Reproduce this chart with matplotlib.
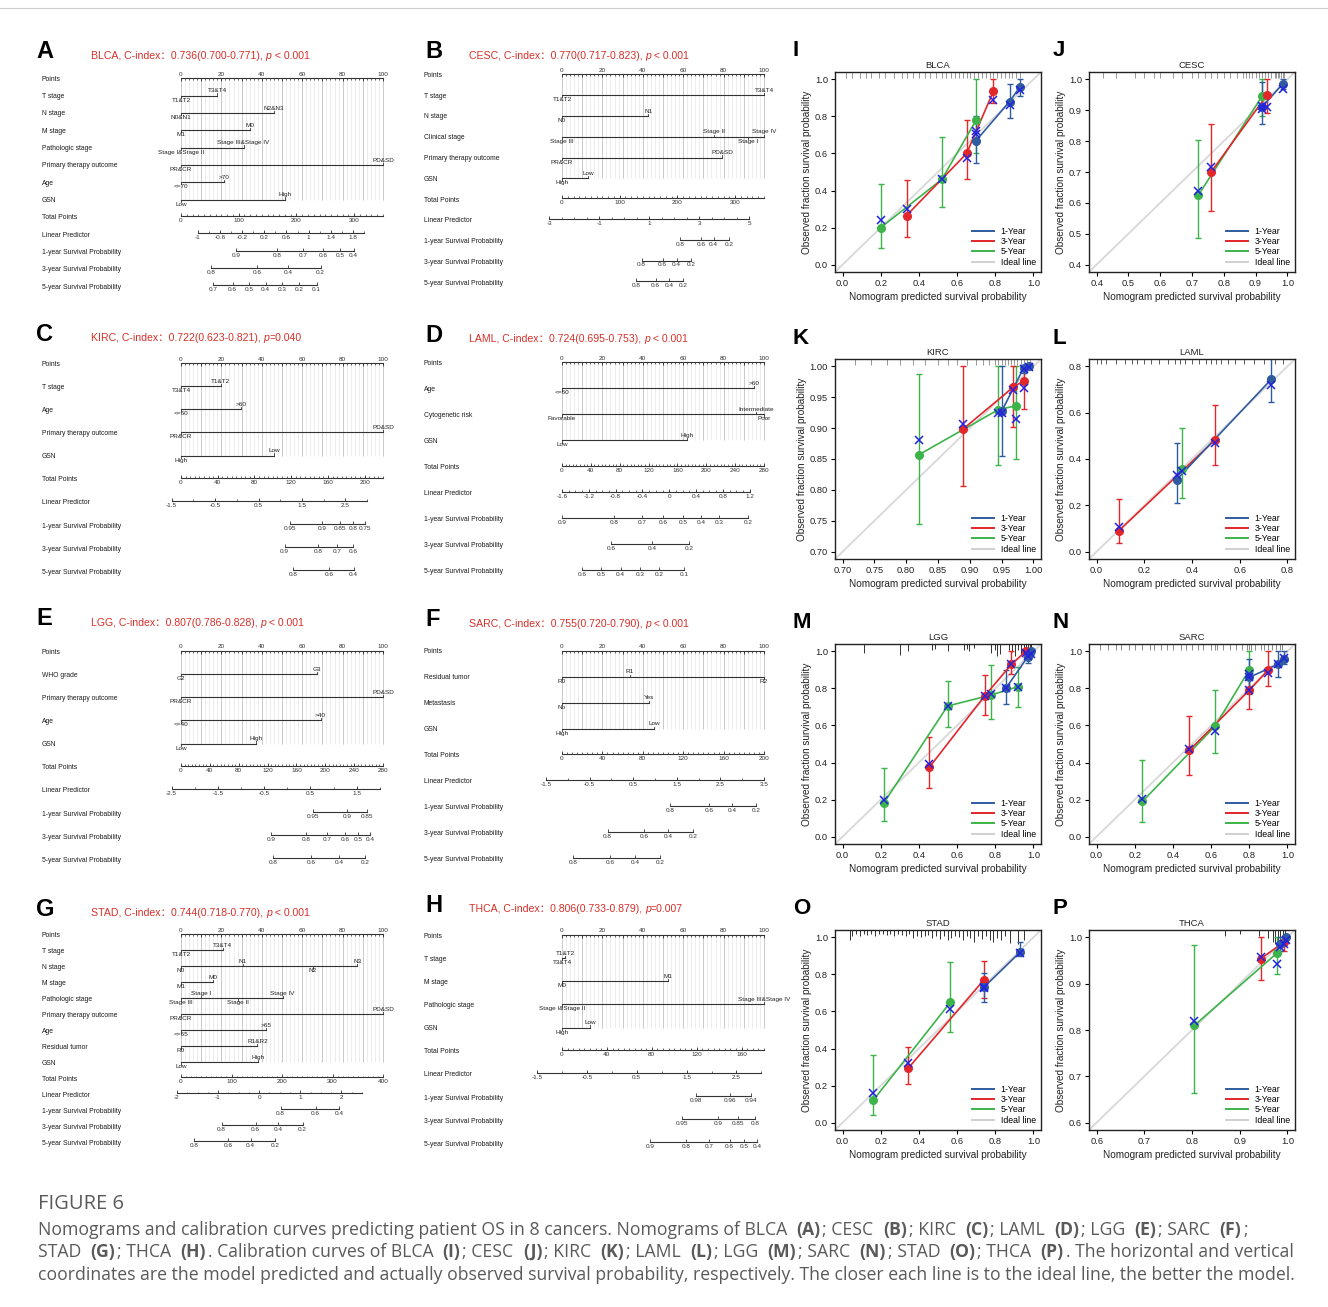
import numpy as np
import matplotlib
matplotlib.use("Agg")
import matplotlib.pyplot as plt
from matplotlib.lines import Line2D
from matplotlib.transforms import blended_transform_factory

W, H = 1328, 1307
plt.rcParams['font.family'] = ['Liberation Sans', 'DejaVu Sans']
CJK = ['Liberation Sans', 'Noto Sans CJK SC', 'DejaVu Sans']

# ---------------- nomogram data (A-H) ----------------
# level: (text, points, side)  side 1 = text above the line, -1 = below
SURV_ROWS = ["1-year Survival Probability", "3-year Survival Probability", "5-year Survival Probability"]

BLCA_head = ("BLCA", "0.736(0.700-0.771)", " < 0.001")
BLCA_vars = [
    ("T stage", [("T1&T2", 0, -1), ("T3&T4", 18, 1)]),
    ("N stage", [("N0&N1", 0, -1), ("N2&N3", 46, 1)]),
    ("M stage", [("M1", 0, -1), ("M0", 34, 1)]),
    ("Pathologic stage", [("Stage I&Stage II", 0, -1), ("Stage III&Stage IV", 31, 1)]),
    ("Primary therapy outcome", [("PR&CR", 0, -1), ("PD&SD", 100, 1)]),
    ("Age", [("<=70", 0, -1), (">70", 21.5, 1)]),
    ("GSN", [("Low", 0, -1), ("High", 51.5, 1)]),
]
BLCA_total = (350, 100, 10)                    # max, label step, minor step
BLCA_lp = (-1, 2.0, 8.2, 90.7, [-1, -0.6, -0.2, 0.2, 0.6, 1, 1.4, 1.8], 0.2)
BLCA_surv = [
    ([0.9, 0.8, 0.7, 0.6, 0.5, 0.4], [27.3, 47.4, 60.5, 70.4, 78.6, 85.5]),
    ([0.8, 0.6, 0.4, 0.2], [15.0, 37.8, 53.1, 69.1]),
    ([0.7, 0.6, 0.5, 0.4, 0.3, 0.2, 0.1], [15.8, 25.5, 33.7, 41.9, 50.2, 58.6, 67.1]),
]

CESC_head = ("CESC", "0.770(0.717-0.823)", " < 0.001")
CESC_vars = [
    ("T stage", [("T1&T2", 0, -1), ("T3&T4", 100, 1)]),
    ("N stage", [("N0", 0, -1), ("N1", 42.8, 1)]),
    ("Clinical stage", [("Stage III", 0, -1), ("Stage II", 75.1, 1), ("Stage I", 92.1, -1), ("Stage IV", 100, 1)]),
    ("Primary therapy outcome", [("PR&CR", 0, -1), ("PD&SD", 79.2, 1)]),
    ("GSN", [("High", 0, -1), ("Low", 13, 1)]),
]
CESC_total = (350, 100, 10)
CESC_lp = (-3, 5, -6.3, 92.6, [-3, -1, 1, 3, 5], 0.5)
CESC_surv = [
    ([0.8, 0.6, 0.4, 0.2], [58.3, 68.7, 75.1, 82.7]),
    ([0.8, 0.6, 0.4, 0.2], [39.4, 49.8, 56.7, 63.8]),
    ([0.8, 0.6, 0.4, 0.2], [36.6, 46.3, 52.9, 60.0]),
]

KIRC_head = ("KIRC", "0.722(0.623-0.821)", "=0.040")
KIRC_vars = [
    ("T stage", [("T3&T4", 0, -1), ("T1&T2", 19.6, 1)]),
    ("Age", [("<=60", 0, -1), (">60", 29.9, 1)]),
    ("Primary therapy outcome", [("PR&CR", 0, -1), ("PD&SD", 100, 1)]),
    ("GSN", [("High", 0, -1), ("Low", 46.2, 1)]),
]
KIRC_total = (220, 40, 5)
KIRC_lp = (-1.5, 3.0, -4.6, 92.1, [-1.5, -0.5, 0.5, 1.5, 2.5], 0.5)
KIRC_surv = [
    ([0.95, 0.9, 0.85, 0.8, 0.75], [53.9, 69.7, 78.9, 85.2, 91.0]),
    ([0.9, 0.8, 0.7, 0.6], [51.3, 67.8, 77.3, 85.2]),
    ([0.8, 0.6, 0.4], [55.4, 73.2, 85.5]),
]

LAML_head = ("LAML", "0.724(0.695-0.753)", " < 0.001")
LAML_vars = [
    ("Age", [("<=60", 0, -1), (">60", 95.1, 1)]),
    ("Cytogenetic risk", [("Favorable", 0, -1), ("Intermediate", 95.9, 1), ("Poor", 100, -1)]),
    ("GSN", [("Low", 0, -1), ("High", 61.9, 1)]),
]
LAML_total = (280, 40, 5)
LAML_lp = (-1.6, 1.2, 0.0, 92.9, [-1.6, -1.2, -0.8, -0.4, 0, 0.4, 0.8, 1.2], 0.1)
LAML_surv = [
    ([0.9, 0.8, 0.7, 0.6, 0.5, 0.4, 0.3, 0.2], [0.0, 25.7, 39.7, 50.1, 60.0, 68.7, 77.6, 92.1]),
    ([0.6, 0.4, 0.2], [24.5, 44.8, 62.9]),
    ([0.6, 0.5, 0.4, 0.3, 0.2, 0.1], [10.0, 19.4, 29.0, 38.5, 48.1, 60.5]),
]

LGG_head = ("LGG", "0.807(0.786-0.828)", " < 0.001")
LGG_vars = [
    ("WHO grade", [("G2", 0, -1), ("G3", 67.4, 1)]),
    ("Primary therapy outcome", [("PR&CR", 0, -1), ("PD&SD", 100, 1)]),
    ("Age", [("<=40", 0, -1), (">40", 69.1, 1)]),
    ("GSN", [("Low", 0, -1), ("High", 37.2, 1)]),
]
LGG_total = (280, 40, 5)
LGG_lp = (-2.5, 2.0, -4.6, 98.4, [-2.5, -1.5, -0.5, 0.5, 1.5], 0.5)
LGG_surv = [
    ([0.95, 0.9, 0.85], [65.5, 82.2, 92.3]),
    ([0.9, 0.8, 0.7, 0.6, 0.5, 0.4], [44.6, 61.8, 72.5, 81.1, 87.8, 93.8]),
    ([0.8, 0.6, 0.4, 0.2], [45.7, 64.6, 78.3, 91.0]),
]

SARC_head = ("SARC", "0.755(0.720-0.790)", " < 0.001")
SARC_vars = [
    ("Residual tumor", [("R0", 0, -1), ("R1", 33.6, 1), ("R2", 100, -1)]),
    ("Metastasis", [("No", 0, -1), ("Yes", 43.2, 1)]),
    ("GSN", [("High", 0, -1), ("Low", 45.6, 1)]),
]
SARC_total = (200, 40, 5)
SARC_lp = (-1.5, 3.5, -7.9, 100.0, [-1.5, -0.5, 0.5, 1.5, 2.5, 3.5], 0.5)
SARC_surv = [
    ([0.8, 0.6, 0.4, 0.2], [53.7, 72.7, 84.2, 96.2]),
    ([0.8, 0.6, 0.4, 0.2], [22.6, 40.7, 52.6, 64.9]),
    ([0.8, 0.6, 0.4, 0.2], [5.6, 23.7, 36.1, 48.4]),
]

STAD_head = ("STAD", "0.744(0.718-0.770)", " < 0.001")
STAD_vars = [
    ("T stage", [("T1&T2", 0, -1), ("T3&T4", 20.6, 1)]),
    ("N stage", [("N0", 0, -1), ("N1", 30.6, 1), ("N2", 65.1, -1), ("N3", 87.2, 1)]),
    ("M stage", [("M1", 0, -1), ("M0", 15.6, 1)]),
    ("Pathologic stage", [("Stage III", 0, -1), ("Stage I", 10, 1), ("Stage II", 28, -1), ("Stage IV", 50.3, 1)]),
    ("Primary therapy outcome", [("PR&CR", 0, -1), ("PD&SD", 100, 1)]),
    ("Age", [("<=65", 0, -1), (">65", 42.3, 1)]),
    ("Residual tumor", [("R0", 0, -1), ("R1&R2", 37.8, 1)]),
    ("GSN", [("Low", 0, -1), ("High", 38.3, 1)]),
]
STAD_total = (400, 100, 10)
STAD_lp = (-2, 2.5, -2.0, 89.6, [-2, -1, 0, 1, 2], 0.25)
STAD_surv = [
    ([0.8, 0.6, 0.4], [49.3, 66.6, 78.3]),
    ([0.8, 0.6, 0.4, 0.2], [20.1, 37.0, 48.2, 60.2]),
    ([0.8, 0.6, 0.4, 0.2], [6.3, 23.5, 34.5, 46.5]),
]

THCA_head = ("THCA", "0.806(0.733-0.879)", "=0.007")
THCA_vars = [
    ("T stage", [("T3&T4", 0, -1), ("T1&T2", 1.6, 1)]),
    ("M stage", [("M0", 0, -1), ("M1", 52.4, 1)]),
    ("Pathologic stage", [("Stage I&Stage II", 0, -1), ("Stage III&Stage IV", 100, 1)]),
    ("GSN", [("High", 0, -1), ("Low", 13.8, 1)]),
]
THCA_total = (180, 40, 5)
THCA_lp = (-1.5, 3.0, -12.4, 98.7, [-1.5, -0.5, 0.5, 1.5, 2.5], 0.5)
THCA_surv = [
    ([0.98, 0.96, 0.94], [66.4, 83.4, 93.7]),
    ([0.95, 0.9, 0.85, 0.8], [59.6, 77.3, 87.1, 95.4]),
    ([0.9, 0.8, 0.7, 0.6, 0.5, 0.4], [43.8, 61.6, 72.8, 83.0, 90.1, 96.5]),
]

# ---------------- calibration data (I-P) ----------------
# (predicted, observed, lower, upper, bias-corrected)
BLCA_1y = [(0.70, 0.67, 0.55, 0.80, 0.705), (0.875, 0.88, 0.79, 0.975, 0.86), (0.93, 0.96, 0.91, 1.0, 0.945)]
BLCA_3y = [(0.335, 0.265, 0.15, 0.455, 0.30), (0.65, 0.60, 0.46, 0.78, 0.575), (0.79, 0.935, 0.87, 1.0, 0.89)]
BLCA_5y = [(0.20, 0.20, 0.09, 0.435, 0.24), (0.52, 0.46, 0.31, 0.69, 0.46), (0.70, 0.78, 0.60, 1.0, 0.72)]

CESC_1y = [(0.92, 0.91, 0.855, 0.99, 0.905), (0.985, 0.985, 0.97, 1.0, 0.97)]
CESC_3y = [(0.76, 0.70, 0.575, 0.855, 0.715), (0.935, 0.948, 0.89, 1.0, 0.91)]
CESC_5y = [(0.72, 0.625, 0.485, 0.805, 0.64), (0.92, 0.945, 0.88, 1.0, 0.915)]

KIRC_1y = [(0.95, 0.927, 0.855, 1.0, 0.925), (0.985, 0.998, 0.99, 1.0, 0.996), (0.993, 1.0, 0.995, 1.0, 0.999)]
KIRC_3y = [(0.89, 0.899, 0.807, 1.0, 0.907), (0.968, 0.966, 0.902, 1.0, 0.962), (0.985, 0.977, 0.931, 1.0, 0.965)]
KIRC_5y = [(0.82, 0.857, 0.745, 0.987, 0.88), (0.945, 0.93, 0.84, 1.0, 0.925), (0.972, 0.936, 0.85, 1.0, 0.914)]

LAML_1y = [(0.335, 0.31, 0.21, 0.47, 0.33), (0.733, 0.745, 0.645, 0.85, 0.72)]
LAML_3y = [(0.093, 0.09, 0.035, 0.227, 0.107), (0.497, 0.483, 0.372, 0.635, 0.47)]
LAML_5y = [(0.36, 0.355, 0.233, 0.535, 0.35)]

LGG_1y = [(0.855, 0.80, 0.715, 0.90, 0.80), (0.97, 0.97, 0.94, 1.0, 0.975), (0.99, 1.0, 0.98, 1.0, 0.985)]
LGG_3y = [(0.455, 0.375, 0.26, 0.54, 0.39), (0.745, 0.76, 0.655, 0.875, 0.76),
          (0.885, 0.93, 0.88, 1.0, 0.93), (0.96, 1.0, 0.97, 1.0, 0.99)]
LGG_5y = [(0.215, 0.18, 0.085, 0.37, 0.20), (0.55, 0.705, 0.59, 0.84, 0.705),
          (0.78, 0.765, 0.635, 0.925, 0.77), (0.92, 0.81, 0.70, 0.915, 0.81)]

SARC_1y = [(0.80, 0.86, 0.77, 0.96, 0.86), (0.95, 0.93, 0.86, 1.0, 0.93), (0.98, 0.96, 0.93, 1.0, 0.965)]
SARC_3y = [(0.485, 0.465, 0.335, 0.65, 0.475), (0.80, 0.79, 0.69, 0.88, 0.79), (0.90, 0.90, 0.815, 1.0, 0.885)]
SARC_5y = [(0.24, 0.19, 0.08, 0.415, 0.205), (0.62, 0.595, 0.45, 0.79, 0.57), (0.80, 0.90, 0.80, 1.0, 0.88)]

STAD_1y = [(0.74, 0.73, 0.65, 0.81, 0.725), (0.93, 0.92, 0.90, 0.975, 0.915)]
STAD_3y = [(0.345, 0.295, 0.21, 0.41, 0.32), (0.74, 0.77, 0.675, 0.875, 0.73)]
STAD_5y = [(0.16, 0.12, 0.04, 0.365, 0.16), (0.565, 0.65, 0.49, 0.865, 0.615)]

THCA_1y = [(0.985, 0.985, 0.97, 1.0, 0.98), (0.997, 1.0, 0.99, 1.0, 0.995)]
THCA_3y = [(0.944, 0.954, 0.908, 1.0, 0.957), (0.993, 0.99, 0.97, 1.0, 0.985)]
THCA_5y = [(0.805, 0.81, 0.665, 0.983, 0.82), (0.978, 0.966, 0.92, 1.0, 0.943)]

# rug of predicted values along the top of each calibration box
BLCA_rug = [0.02, 0.05, 0.09, 0.12, 0.15, 0.19, 0.22, 0.27, 0.31, 0.34, 0.37, 0.40, 0.43, 0.46, 0.49,
            0.52, 0.54, 0.57, 0.59, 0.61, 0.63, 0.65, 0.67, 0.69, 0.71, 0.73, 0.75, 0.77, 0.79, 0.81,
            0.83, 0.85, 0.87, 0.89, 0.91, 0.93]
CESC_rug = [0.42, 0.46, 0.52, 0.55, 0.58, 0.60, 0.64, 0.67, 0.70, 0.72, 0.74, 0.76, 0.78, 0.80, 0.82,
            0.84, 0.86, 0.87, 0.88, 0.89, 0.90, 0.91, 0.92, 0.93, 0.94, 0.95, 0.96, 0.965, 0.97, 0.975,
            0.98, 0.985, 0.99]
KIRC_rug = [0.72, 0.745, 0.77, 0.79, 0.81, 0.83, 0.85, 0.865, 0.88, 0.895, 0.91, 0.92, 0.93, 0.94,
            0.945, 0.95, 0.955, 0.96, 0.965, 0.97, 0.975, 0.98, 0.985, 0.99, 0.995]
LAML_rug = [0.0, 0.02, 0.04, 0.08, 0.12, 0.15, 0.17, 0.20, 0.23, 0.26, 0.30, 0.33, 0.35, 0.37, 0.40,
            0.43, 0.46, 0.48, 0.50, 0.52, 0.55, 0.58, 0.62, 0.66, 0.70, 0.73, 0.75, 0.78]
LGG_rug = [0.111, 0.299, 0.344, 0.47, 0.483, 0.555, 0.635, 0.65, 0.665, 0.69, 0.777, 0.80, 0.81, 0.824,
           0.87, 0.89, 0.905, 0.92, 0.935, 0.95, 0.96, 0.97, 0.98, 0.99]
LGG_rug_h = [0.045, 0.055, 0.035, 0.03, 0.025, 0.035, 0.03, 0.025, 0.035, 0.02, 0.045, 0.03, 0.06, 0.05,
             0.03, 0.04, 0.06, 0.03, 0.05, 0.04, 0.06, 0.05, 0.07, 0.04]
SARC_rug = [0.02, 0.06, 0.10, 0.13, 0.17, 0.20, 0.24, 0.28, 0.30, 0.34, 0.37, 0.40, 0.44, 0.47, 0.50,
            0.53, 0.56, 0.60, 0.62, 0.63, 0.66, 0.70, 0.73, 0.76, 0.79, 0.80, 0.81, 0.83, 0.86, 0.88,
            0.90, 0.92, 0.94, 0.96, 0.97]
STAD_rug = [0.04, 0.05, 0.07, 0.09, 0.11, 0.13, 0.15, 0.17, 0.19, 0.21, 0.23, 0.25, 0.27, 0.29, 0.31,
            0.33, 0.35, 0.37, 0.39, 0.41, 0.43, 0.45, 0.47, 0.49, 0.51, 0.53, 0.55, 0.57, 0.59, 0.61,
            0.63, 0.65, 0.67, 0.69, 0.71, 0.73, 0.75, 0.77, 0.79, 0.81, 0.83, 0.85, 0.88, 0.92, 0.95]
STAD_rug_h = [0.05, 0.03, 0.02, 0.03, 0.02, 0.025, 0.02, 0.03, 0.02, 0.02, 0.025, 0.02, 0.03, 0.02, 0.025,
              0.03, 0.02, 0.04, 0.03, 0.035, 0.03, 0.025, 0.04, 0.03, 0.045, 0.03, 0.05, 0.04, 0.03, 0.035,
              0.05, 0.03, 0.04, 0.06, 0.03, 0.045, 0.03, 0.05, 0.06, 0.04, 0.05, 0.03, 0.065, 0.07, 0.05]
THCA_rug = [0.87, 0.90, 0.94, 0.96, 0.97, 0.975, 0.98, 0.985, 0.99, 0.995]
THCA_rug_h = [0.03, 0.02, 0.03, 0.04, 0.06, 0.07, 0.09, 0.10, 0.06, 0.05]

BLUE, RED, GREEN, XBLUE = '#2f5b9f', '#e3262a', '#3cb44a', '#2323dd'

fig = plt.figure(figsize=(W / 100, H / 100), dpi=100)
renderer = fig.canvas.get_renderer()


def rect(x0, y0, x1, y1):
    return [x0 / W, 1 - y1 / H, (x1 - x0) / W, (y1 - y0) / H]


def text_width(s, **kw):
    t = fig.text(0, 0, "|" + s + "|", **kw)
    w = t.get_window_extent(renderer).width
    t.remove()
    t = fig.text(0, 0, "||", **kw)
    w -= t.get_window_extent(renderer).width
    t.remove()
    return w


def run_text(x, y, segs, va='baseline', **kw):
    for s, extra in segs:
        props = dict(kw)
        props.update(extra)
        pre = props.pop('pre', 0)
        post = props.pop('post', 0)
        x += pre
        fig.text(x / W, 1 - y / H, s, ha='left', va=va, **props)
        x += text_width(s, **props) + post


# ---------------- nomograms ----------------
NOMO_X = {0: (181, 383), 1: (562, 764)}
LABEL_X = {0: 42, 1: 424}
TITLE_X = {0: 91, 1: 469}
LETTER_X = {0: 36, 1: 425}


def nomogram(letter, col, row0, row_last, head_y, head, vars_, total, lp, surv):
    p0, p100 = NOMO_X[col]
    lab_x = LABEL_X[col]
    n = 3 + len(vars_) + len(surv)
    sp = (row_last - row0) / (n - 1)
    s = (p100 - p0) / 100.0
    x0, x1 = lab_x - 4, p100 + 30
    y0, y1 = row0 - 16, row_last + 12
    ax = fig.add_axes(rect(x0, y0, x1, y1))
    ax.set_xlim((x0 - p0) / s, (x1 - p0) / s)
    ax.set_ylim((y1 - row0) / sp, (y0 - row0) / sp)
    ax.axis('off')
    py = 1.0 / sp
    lc, lw = '#333333', 0.8
    tfs = 4.6

    names = ["Points"] + [v[0] for v in vars_] + ["Total Points", "Linear Predictor"] + SURV_ROWS[:len(surv)]
    for i, name in enumerate(names):
        ax.text((lab_x - p0) / s, i, name, ha='left', va='center', fontsize=4.9, color='#1a1a1a')

    # points axis + grid
    yl = -1 * py
    yg = len(vars_) - 1 * py
    ax.vlines(np.arange(0, 101, 2), yl, yg, color='#e6e6e6', lw=0.5, zorder=0)
    ax.vlines(np.arange(0, 101, 10), yl, yg, color='#c4c4c4', lw=0.6, zorder=0)
    ax.plot([0, 100], [yl, yl], color=lc, lw=lw)
    ax.vlines(np.arange(0, 101, 2), yl, yl + 1.8 * py, color=lc, lw=0.5)
    ax.vlines(np.arange(0, 101, 10), yl, yl + 3 * py, color=lc, lw=0.6)
    for v in range(0, 101, 20):
        ax.text(v, yl - 1.5 * py, str(v), ha='center', va='bottom', fontsize=tfs, color='#333333')

    # predictor rows
    for i, (name, levels) in enumerate(vars_, start=1):
        y = i - 1 * py
        pts = [lv[1] for lv in levels]
        ax.plot([min(pts), max(pts)], [y, y], color=lc, lw=lw)
        for txt, p, side in levels:
            ax.plot([p, p], [y, y - side * 2.2 * py], color=lc, lw=0.6)
            if side > 0:
                ax.text(p, y - 2.4 * py, txt, ha='center', va='bottom', fontsize=tfs, color='#222222')
            else:
                ax.text(p, y + 2.0 * py, txt, ha='center', va='top', fontsize=tfs, color='#222222')

    def scale(i, major_pos, major_lab, minor_pos, lo, hi):
        y = i - 2 * py
        ax.plot([lo, hi], [y, y], color=lc, lw=lw)
        ax.vlines(minor_pos, y, y - 1.8 * py, color=lc, lw=0.5)
        ax.vlines(major_pos, y, y - 3 * py, color=lc, lw=0.6)
        for p, t in zip(major_pos, major_lab):
            ax.text(p, y + 2 * py, t, ha='center', va='top', fontsize=tfs, color='#333333')

    nv = len(vars_)
    tmax, tstep, tminor = total
    tv = np.arange(0, tmax + 1e-9, tstep)
    scale(nv + 1, tv / tmax * 100, [f"{v:g}" for v in tv],
          np.arange(0, tmax + 1e-9, tminor) / tmax * 100, 0, 100)

    lo, hi, plo, phi, labs, mstep = lp
    to_pt = lambda v: plo + (np.asarray(v, float) - lo) / (hi - lo) * (phi - plo)
    scale(nv + 2, to_pt(labs), [f"{v:g}" for v in labs],
          to_pt(np.arange(lo, hi + 1e-9, mstep)), plo, phi)

    for k, (vals, pos) in enumerate(surv):
        scale(nv + 3 + k, pos, [f"{v:g}" for v in vals], [], min(pos), max(pos))

    fig.text(LETTER_X[col] / W, 1 - (head_y - 4) / H, letter, fontsize=17, fontweight='bold',
             ha='left', va='center')
    cname, ci, pv = head
    run_text(TITLE_X[col], head_y + 3,
             [(f"{cname}, C-index\uff1a{ci}, ", {}), ("p", {'style': 'italic'}), (pv, {})],
             fontsize=7.6, color='#d7302a', family=CJK)


NOMOS = [
    ("A", 0, 79.3, 287.3, 55.7, BLCA_head, BLCA_vars, BLCA_total, BLCA_lp, BLCA_surv),
    ("B", 1, 75.3, 283.3, 55.7, CESC_head, CESC_vars, CESC_total, CESC_lp, CESC_surv),
    ("C", 0, 364.0, 572.3, 338.3, KIRC_head, KIRC_vars, KIRC_total, KIRC_lp, KIRC_surv),
    ("D", 1, 363.3, 571.7, 339.3, LAML_head, LAML_vars, LAML_total, LAML_lp, LAML_surv),
    ("E", 0, 652.0, 860.3, 622.7, LGG_head, LGG_vars, LGG_total, LGG_lp, LGG_surv),
    ("F", 1, 651.7, 859.7, 624.0, SARC_head, SARC_vars, SARC_total, SARC_lp, SARC_surv),
    ("G", 0, 935.3, 1143.3, 913.3, STAD_head, STAD_vars, STAD_total, STAD_lp, STAD_surv),
    ("H", 1, 936.0, 1144.3, 909.0, THCA_head, THCA_vars, THCA_total, THCA_lp, THCA_surv),
]
for args in NOMOS:
    nomogram(*args)

# ---------------- calibration curves ----------------
CAL_LEFT = {0: 835, 1: 1089}
CAL_TOP = {0: 72, 1: 359, 2: 644, 3: 930}
CAL_LETTER_X = {0: 793, 1: 1053}


def calib(letter, col, row, name, lim, step, fmt, y1, y3, y5, rug, rug_h, rug_c):
    left, top = CAL_LEFT[col], CAL_TOP[row]
    ax = fig.add_axes(rect(left, top, left + 206, top + 200))
    lo, hi = lim
    pad = 0.04 * (hi - lo)
    ax.set_xlim(lo - pad, hi + pad)
    ax.set_ylim(lo - pad, hi + pad)
    ax.plot([lo - pad, hi + pad], [lo - pad, hi + pad], color='#d8d8d8', lw=1.3, zorder=1)
    for data, c in ((y5, GREEN), (y3, RED), (y1, BLUE)):
        d = np.array(data)
        ax.errorbar(d[:, 0], d[:, 1], yerr=[d[:, 1] - d[:, 2], d[:, 3] - d[:, 1]], fmt='none',
                    ecolor=c, elinewidth=1.0, capsize=2.0, capthick=1.0, zorder=2)
        ax.plot(d[:, 0], d[:, 1], '-', color=c, lw=1.2, zorder=3)
        ax.plot(d[:, 0], d[:, 1], 'o', color=c, ms=5.5, mec=c, zorder=4)
    for data in (y5, y3, y1):
        d = np.array(data)
        ax.plot(d[:, 0], d[:, 4], 'x', color=XBLUE, ms=6, mew=1.1, zorder=5)
    tr = blended_transform_factory(ax.transData, ax.transAxes)
    h = np.broadcast_to(np.asarray(rug_h, float), (len(rug),))
    ax.vlines(rug, 1 - h, 1, transform=tr, colors=rug_c, lw=0.6, zorder=1)

    ticks = np.arange(lo, hi + step / 2, step)
    ax.set_xticks(ticks)
    ax.set_yticks(ticks)
    ax.set_xticklabels([fmt % t for t in ticks])
    ax.set_yticklabels([fmt % t for t in ticks])
    ax.tick_params(direction='out', length=3, width=0.8, labelsize=6.7, pad=2, labelcolor='#222222')
    for sp_ in ax.spines.values():
        sp_.set_linewidth(1.0)
        sp_.set_color('#222222')
    ax.set_xlabel("Nomogram predicted survival probability", fontsize=7.2, labelpad=3, color='#222222')
    ax.set_ylabel("Observed fraction survival probability", fontsize=7.2, labelpad=2, color='#222222')
    ax.set_title(name, fontsize=6.8, pad=3, color='#222222')
    handles = [Line2D([], [], color=BLUE, lw=1.4), Line2D([], [], color=RED, lw=1.4),
               Line2D([], [], color=GREEN, lw=1.4), Line2D([], [], color='#d0d0d0', lw=1.4)]
    ax.legend(handles, ["1-Year", "3-Year", "5-Year", "Ideal line"], loc='lower right', frameon=False,
              fontsize=6.3, handlelength=2.5, handletextpad=0.8, labelspacing=0.15, borderaxespad=0.2)
    fig.text(CAL_LETTER_X[col] / W, 1 - (top - 21) / H, letter, fontsize=16, fontweight='bold',
             ha='left', va='center')


CALS = [
    ("I", 0, 0, "BLCA", (0.0, 1.0), 0.2, "%.1f", BLCA_1y, BLCA_3y, BLCA_5y, BLCA_rug, 0.028, '#888888'),
    ("J", 1, 0, "CESC", (0.4, 1.0), 0.1, "%.1f", CESC_1y, CESC_3y, CESC_5y, CESC_rug, 0.028, '#888888'),
    ("K", 0, 1, "KIRC", (0.7, 1.0), 0.05, "%.2f", KIRC_1y, KIRC_3y, KIRC_5y, KIRC_rug, 0.028, '#888888'),
    ("L", 1, 1, "LAML", (0.0, 0.8), 0.2, "%.1f", LAML_1y, LAML_3y, LAML_5y, LAML_rug, 0.025, '#444444'),
    ("M", 0, 2, "LGG", (0.0, 1.0), 0.2, "%.1f", LGG_1y, LGG_3y, LGG_5y, LGG_rug, LGG_rug_h, '#111111'),
    ("N", 1, 2, "SARC", (0.0, 1.0), 0.2, "%.1f", SARC_1y, SARC_3y, SARC_5y, SARC_rug, 0.028, '#777777'),
    ("O", 0, 3, "STAD", (0.0, 1.0), 0.2, "%.1f", STAD_1y, STAD_3y, STAD_5y, STAD_rug, STAD_rug_h, '#111111'),
    ("P", 1, 3, "THCA", (0.6, 1.0), 0.1, "%.1f", THCA_1y, THCA_3y, THCA_5y, THCA_rug, THCA_rug_h, '#111111'),
]
for args in CALS:
    calib(*args)

# ---------------- caption ----------------
fig.add_artist(Line2D([0, 1], [1 - 8 / H, 1 - 8 / H], color='#d0d0d0', lw=0.8))
CAP = dict(fontsize=12.7, color='#5a5a5a', family=['Open Sans', 'DejaVu Sans'])
B = {'fontweight': 'bold', 'pre': 4.5, 'post': 2.0}
run_text(38, 1209, [("FIGURE 6", {'fontsize': 14.5})], **CAP)
run_text(38, 1235, [
    ("Nomograms and calibration curves predicting patient OS in 8 cancers. Nomograms of BLCA ", {}),
    ("(A)", B), ("; CESC ", {}), ("(B)", B), ("; KIRC ", {}), ("(C)", B), ("; LAML ", {}), ("(D)", B),
    ("; LGG ", {}), ("(E)", B), ("; SARC ", {}), ("(F)", B), (";", {})], **CAP)
run_text(38, 1257, [
    ("STAD ", {}), ("(G)", B), ("; THCA ", {}), ("(H)", B), (". Calibration curves of BLCA ", {}), ("(I)", B),
    ("; CESC ", {}), ("(J)", B), ("; KIRC ", {}), ("(K)", B), ("; LAML ", {}), ("(L)", B), ("; LGG ", {}),
    ("(M)", B), ("; SARC ", {}), ("(N)", B), ("; STAD ", {}), ("(O)", B), ("; THCA ", {}), ("(P)", B),
    (". The horizontal and vertical", {})], **CAP)
run_text(38, 1280, [
    ("coordinates are the model predicted and actually observed survival probability, respectively. "
     "The closer each line is to the ideal line, the better the model.", {})], **CAP)

fig.savefig("out.png", dpi=100)
